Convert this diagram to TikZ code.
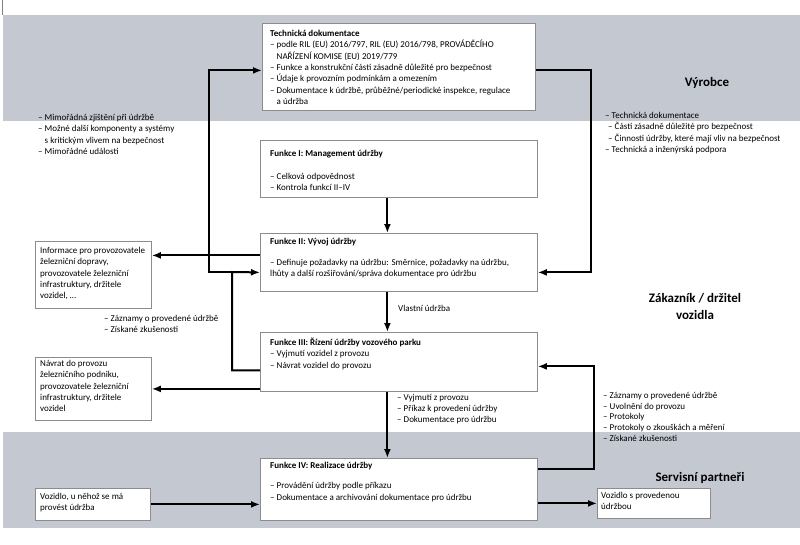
\documentclass[tikz,border=0pt]{standalone}
\usepackage{fontspec}
\setmainfont{Carlito}
\usetikzlibrary{arrows.meta}
\definecolor{bandgray}{RGB}{196,200,208}
\definecolor{boxgray}{RGB}{140,140,140}
\tikzset{
  blk/.style={draw=boxgray, fill=white, line width=0.8pt, anchor=north west, inner sep=0pt},
  txt/.style={anchor=north west, align=left, inner sep=0pt, font=\fontsize{9}{11.3}\selectfont},
  band/.style={align=center, font=\fontsize{13}{17}\selectfont\bfseries},
  arr/.style={line width=2pt, -{Latex[length=9pt,width=7pt]}}
}
\newcommand{\ind}{\phantom{– }}
\begin{document}
\begin{tikzpicture}[x=1pt,y=-1pt]
    \useasboundingbox (0,0) rectangle (800,544);

    % Gray bands
    \fill[bandgray] (3,15) rectangle (800,121);
    \fill[bandgray] (3,432) rectangle (800,528);
    \draw[gray, line width=1pt] (2,0) -- (2,15);

    % Band labels
    \node[band] (vyrobce) at (707,83) {Výrobce};
    \node[band] (zakaznik) at (695,306) {Zákazník / držitel\\vozidla};
    \node[band] (servis) at (700,478) {Servisní partneři};

    % Main boxes
    \node[blk, minimum width=273, minimum height=87] (tech) at (262,23) {};
    \node[txt] (techtxt) at (270,30) {\textbf{Technická dokumentace}\\
        – podle RIL (EU) 2016/797, RIL (EU) 2016/798, PROVÁDĚCÍHO\\
        \ind NAŘÍZENÍ KOMISE (EU) 2019/779\\
        – Funkce a konstrukční části zásadně důležité pro bezpečnost\\
        – Údaje k provozním podmínkám a omezením\\
        – Dokumentace k údržbě, průběžné/periodické inspekce, regulace\\
        \ind a údržba};

    \node[blk, minimum width=277, minimum height=57] (f1) at (260,140) {};
    \node[txt] (f1txt) at (270,150) {\textbf{Funkce I: Management údržby}\\[11.3pt]
        – Celková odpovědnost\\
        – Kontrola funkcí II–IV};

    \node[blk, minimum width=277, minimum height=58] (f2) at (260,233) {};
    \node[txt] (f2txt) at (270,238) {\textbf{Funkce II: Vývoj údržby}\\[9.5pt]
        – Definuje požadavky na údržbu: Směrnice, požadavky na údržbu,\\
        lhůty a další rozšiřování/správa dokumentace pro údržbu};

    \node[blk, minimum width=277, minimum height=59] (f3) at (260,332) {};
    \node[txt] (f3txt) at (270,338) {\textbf{Funkce III: Řízení údržby vozového parku}\\
        – Vyjmutí vozidel z provozu\\
        – Návrat vozidel do provozu};

    \node[blk, minimum width=277, minimum height=62] (f4) at (260,458) {};
    \node[txt] (f4txt) at (270,462) {\textbf{Funkce IV: Realizace údržby}\\[9pt]
        – Provádění údržby podle příkazu\\
        – Dokumentace a archivování dokumentace pro údržbu};

    % Side boxes
    \node[blk, minimum width=116, minimum height=67] (info) at (35,241) {};
    \node[txt] (infotxt) at (40,247) {Informace pro provozovatele\\
        železniční dopravy,\\
        provozovatele železniční\\
        infrastruktury, držitele\\
        vozidel, …};

    \node[blk, minimum width=116, minimum height=63] (navrat) at (35,357) {};
    \node[txt] (navrattxt) at (40,360) {Návrat do provozu\\
        železničního podniku,\\
        provozovatele železniční\\
        infrastruktury, držitele\\
        vozidel};

    \node[blk, minimum width=115, minimum height=32] (vozidlo) at (35,488) {};
    \node[txt] (vozidlotxt) at (40,493) {Vozidlo, u něhož se má\\provést údržba};

    \node[blk, minimum width=113, minimum height=30] (hotovo) at (597,488) {};
    \node[txt] (hotovotxt) at (601,492) {Vozidlo s provedenou\\údržbou};

    % Free labels
    \node[txt] (mimo) at (38,114) {– Mimořádná zjištění při údržbě\\
        – Možné další komponenty a systémy\\
        \ind s kritickým vlivem na bezpečnost\\
        – Mimořádné události};
    \node[txt] (podpora) at (605,112) {– Technická dokumentace\\
        \hspace*{3pt}– Části zásadně důležité pro bezpečnost\\
        \hspace*{3pt}– Činnosti údržby, které mají vliv na bezpečnost\\
        – Technická a inženýrská podpora};
    \node[txt] (zpetne) at (104,315) {– Záznamy o provedené údržbě\\
        – Získané zkušenosti};
    \node[txt] (vlastni) at (398,305) {Vlastní údržba};
    \node[txt] (prikaz) at (397,394) {– Vyjmutí z provozu\\
        – Příkaz k provedení údržby\\
        – Dokumentace pro údržbu};
    \node[txt, font=\fontsize{9}{10.7}\selectfont] (protokoly) at (603,392) {– Záznamy o provedené údržbě\\
        – Uvolnění do provozu\\
        – Protokoly\\
        – Protokoly o zkouškách a měření\\
        – Získané zkušenosti};

    % Connectors
    \draw[arr] ([xshift=-11.5pt]f1.south) -- ([xshift=-11.5pt]f2.north);
    \draw[arr] ([xshift=-11.5pt]f2.south) -- ([xshift=-11.5pt]f3.north);
    \draw[arr] ([xshift=-11.5pt]f3.south) -- ([xshift=-11.5pt]f4.north);

    \draw[arr] ([yshift=-3.5pt]tech.east) -| ([xshift=53pt,yshift=-10pt]f2.east) -- ([yshift=-10pt]f2.east);
    \draw[arr] ([yshift=20pt]f4.east) -| ([xshift=56pt,yshift=-4.5pt]f3.east) -- ([yshift=-4.5pt]f3.east);

    \coordinate (jn) at (232,272);
    \coordinate (up) at (209,272);
    \draw[arr] ([yshift=-8.5pt]f3.west) -| (jn) -- ([yshift=-10pt]f2.west);
    \draw[arr] (jn) -- (up) |- ([yshift=-3.5pt]tech.west);

    \draw[arr] ([yshift=7pt]f2.west) -- ([yshift=19.5pt]info.east);
    \draw[arr] ([yshift=-27pt]f3.west) -- (navrat.east);
    \draw[arr] (vozidlo.east) -- ([yshift=-15pt]f4.west);
    \draw[arr] ([yshift=-14pt]f4.east) -- (hotovo.west);
\end{tikzpicture}
\end{document}
